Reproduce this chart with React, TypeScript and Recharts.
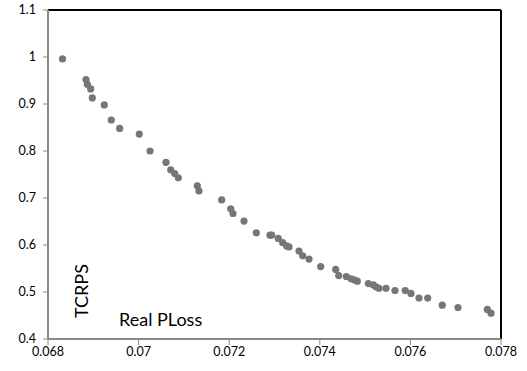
import React from "react";
import { ScatterChart, Scatter, XAxis, YAxis, ReferenceLine, Customized } from "recharts";

const plossValues = [
  0.06832, 0.068839, 0.068868, 0.068942, 0.068978, 0.069243, 0.069397, 0.069582, 0.070015, 0.070252,
  0.070605, 0.070709, 0.070797, 0.070877, 0.071296, 0.071333, 0.071834, 0.072033, 0.072084, 0.072327,
  0.072599, 0.072901, 0.072937, 0.073084, 0.073181, 0.073269, 0.07332, 0.073541, 0.073622, 0.073762,
  0.07402, 0.074351, 0.074417, 0.074585, 0.074689, 0.074762, 0.074828, 0.075071, 0.075181, 0.075241,
  0.075307, 0.075462, 0.07566, 0.075887, 0.076013, 0.07619, 0.076382, 0.076704, 0.077051, 0.077698,
  0.077779,
];
const tcrpsValues = [
  0.996, 0.952, 0.942, 0.932, 0.913, 0.898, 0.866, 0.848, 0.836, 0.8,
  0.776, 0.76, 0.752, 0.743, 0.726, 0.715, 0.696, 0.677, 0.667, 0.651,
  0.626, 0.621, 0.621, 0.614, 0.605, 0.598, 0.596, 0.587, 0.577, 0.57,
  0.554, 0.548, 0.535, 0.533, 0.528, 0.526, 0.523, 0.518, 0.515, 0.511,
  0.508, 0.508, 0.503, 0.503, 0.497, 0.487, 0.487, 0.472, 0.467, 0.463,
  0.455,
];
const xTicks = [0.068, 0.07, 0.072, 0.074, 0.076, 0.078];
const yTicks = [0.4, 0.5, 0.6, 0.7, 0.8, 0.9, 1, 1.1];
const xLabel = "Real PLoss";
const yLabel = "TCRPS";

const data = plossValues.map((x, i) => ({ x, y: tcrpsValues[i] }));

const FONT = "Lato, 'Open Sans', sans-serif";

const AxisTitles = () => (
  <g>
    <text x={119} y={326} fontSize={18} fontFamily={FONT} fill="#000">{xLabel}</text>
    <text x={88} y={318} fontSize={18} fontFamily={FONT} fill="#000" transform="rotate(-90 88 318)">{yLabel}</text>
  </g>
);

export default function App() {
  return (
    <div style={{ position: "absolute", left: 0, top: 0, background: "#fff" }}>
      <ScatterChart width={527} height={371} margin={{ top: 10, right: 26, bottom: 0, left: 0 }}>
        <XAxis
          type="number"
          dataKey="x"
          domain={[0.068, 0.078]}
          ticks={xTicks}
          height={32}
          axisLine={{ stroke: "#8a8a8a", strokeWidth: 2 }}
          tickLine={{ stroke: "#8a8a8a" }}
          tickSize={6}
          tick={{ fill: "#000", fontSize: 12.5, fontFamily: FONT }}
          allowDataOverflow
        />
        <YAxis
          type="number"
          dataKey="y"
          domain={[0.4, 1.1]}
          ticks={yTicks}
          width={48}
          axisLine={{ stroke: "#8a8a8a", strokeWidth: 2 }}
          tickLine={{ stroke: "#8a8a8a" }}
          tickSize={5}
          tickMargin={7}
          tick={{ fill: "#000", fontSize: 12.5, fontFamily: FONT }}
          allowDataOverflow
        />
        <ReferenceLine y={1.1} stroke="#000" strokeWidth={2} />
        <ReferenceLine x={0.078} stroke="#000" strokeWidth={2} />
        <Scatter
          data={data}
          fill="#767676"
          isAnimationActive={false}
          shape={(p: any) => <circle cx={p.cx} cy={p.cy} r={3.6} fill="#767676" />}
        />
        <Customized component={AxisTitles} />
      </ScatterChart>
    </div>
  );
}
